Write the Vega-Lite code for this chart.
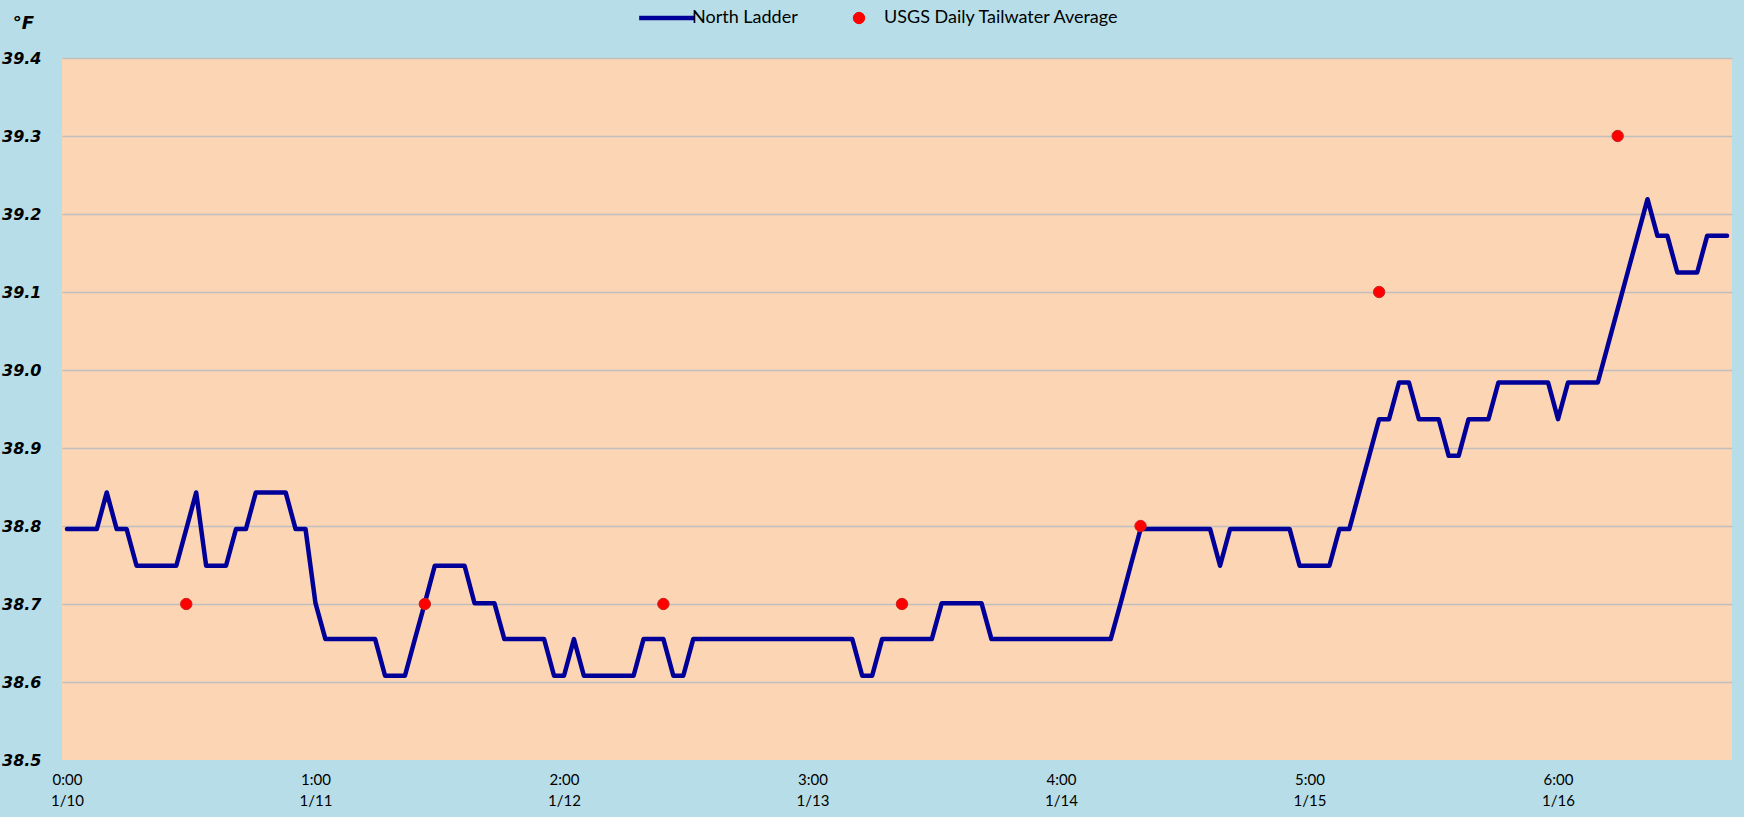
{
  "$schema": "https://vega.github.io/schema/vega-lite/v6.json",
  "width": 1670,
  "height": 702,
  "autosize": {"type": "none"},
  "padding": {"left": 62, "top": 58, "right": 12, "bottom": 57},
  "background": "#B7DEE8",
  "config": {"view": {"fill": "#FCD5B5", "stroke": null}},
  "datasets": {
    "ladder": [
      {"hour":0,"temp":38.796},{"hour":1,"temp":38.796},{"hour":2,"temp":38.796},{"hour":3,"temp":38.796},{"hour":4,"temp":38.843},{"hour":5,"temp":38.796},{"hour":6,"temp":38.796},{"hour":7,"temp":38.749},{"hour":8,"temp":38.749},{"hour":9,"temp":38.749},
      {"hour":10,"temp":38.749},{"hour":11,"temp":38.749},{"hour":12,"temp":38.796},{"hour":13,"temp":38.843},{"hour":14,"temp":38.749},{"hour":15,"temp":38.749},{"hour":16,"temp":38.749},{"hour":17,"temp":38.796},{"hour":18,"temp":38.796},{"hour":19,"temp":38.843},
      {"hour":20,"temp":38.843},{"hour":21,"temp":38.843},{"hour":22,"temp":38.843},{"hour":23,"temp":38.796},{"hour":24,"temp":38.796},{"hour":25,"temp":38.701},{"hour":26,"temp":38.655},{"hour":27,"temp":38.655},{"hour":28,"temp":38.655},{"hour":29,"temp":38.655},
      {"hour":30,"temp":38.655},{"hour":31,"temp":38.655},{"hour":32,"temp":38.608},{"hour":33,"temp":38.608},{"hour":34,"temp":38.608},{"hour":35,"temp":38.655},{"hour":36,"temp":38.701},{"hour":37,"temp":38.749},{"hour":38,"temp":38.749},{"hour":39,"temp":38.749},
      {"hour":40,"temp":38.749},{"hour":41,"temp":38.701},{"hour":42,"temp":38.701},{"hour":43,"temp":38.701},{"hour":44,"temp":38.655},{"hour":45,"temp":38.655},{"hour":46,"temp":38.655},{"hour":47,"temp":38.655},{"hour":48,"temp":38.655},{"hour":49,"temp":38.608},
      {"hour":50,"temp":38.608},{"hour":51,"temp":38.655},{"hour":52,"temp":38.608},{"hour":53,"temp":38.608},{"hour":54,"temp":38.608},{"hour":55,"temp":38.608},{"hour":56,"temp":38.608},{"hour":57,"temp":38.608},{"hour":58,"temp":38.655},{"hour":59,"temp":38.655},
      {"hour":60,"temp":38.655},{"hour":61,"temp":38.608},{"hour":62,"temp":38.608},{"hour":63,"temp":38.655},{"hour":64,"temp":38.655},{"hour":65,"temp":38.655},{"hour":66,"temp":38.655},{"hour":67,"temp":38.655},{"hour":68,"temp":38.655},{"hour":69,"temp":38.655},
      {"hour":70,"temp":38.655},{"hour":71,"temp":38.655},{"hour":72,"temp":38.655},{"hour":73,"temp":38.655},{"hour":74,"temp":38.655},{"hour":75,"temp":38.655},{"hour":76,"temp":38.655},{"hour":77,"temp":38.655},{"hour":78,"temp":38.655},{"hour":79,"temp":38.655},
      {"hour":80,"temp":38.608},{"hour":81,"temp":38.608},{"hour":82,"temp":38.655},{"hour":83,"temp":38.655},{"hour":84,"temp":38.655},{"hour":85,"temp":38.655},{"hour":86,"temp":38.655},{"hour":87,"temp":38.655},{"hour":88,"temp":38.701},{"hour":89,"temp":38.701},
      {"hour":90,"temp":38.701},{"hour":91,"temp":38.701},{"hour":92,"temp":38.701},{"hour":93,"temp":38.655},{"hour":94,"temp":38.655},{"hour":95,"temp":38.655},{"hour":96,"temp":38.655},{"hour":97,"temp":38.655},{"hour":98,"temp":38.655},{"hour":99,"temp":38.655},
      {"hour":100,"temp":38.655},{"hour":101,"temp":38.655},{"hour":102,"temp":38.655},{"hour":103,"temp":38.655},{"hour":104,"temp":38.655},{"hour":105,"temp":38.655},{"hour":106,"temp":38.701},{"hour":107,"temp":38.749},{"hour":108,"temp":38.796},{"hour":109,"temp":38.796},
      {"hour":110,"temp":38.796},{"hour":111,"temp":38.796},{"hour":112,"temp":38.796},{"hour":113,"temp":38.796},{"hour":114,"temp":38.796},{"hour":115,"temp":38.796},{"hour":116,"temp":38.749},{"hour":117,"temp":38.796},{"hour":118,"temp":38.796},{"hour":119,"temp":38.796},
      {"hour":120,"temp":38.796},{"hour":121,"temp":38.796},{"hour":122,"temp":38.796},{"hour":123,"temp":38.796},{"hour":124,"temp":38.749},{"hour":125,"temp":38.749},{"hour":126,"temp":38.749},{"hour":127,"temp":38.749},{"hour":128,"temp":38.796},{"hour":129,"temp":38.796},
      {"hour":130,"temp":38.843},{"hour":131,"temp":38.890},{"hour":132,"temp":38.937},{"hour":133,"temp":38.937},{"hour":134,"temp":38.984},{"hour":135,"temp":38.984},{"hour":136,"temp":38.937},{"hour":137,"temp":38.937},{"hour":138,"temp":38.937},{"hour":139,"temp":38.890},
      {"hour":140,"temp":38.890},{"hour":141,"temp":38.937},{"hour":142,"temp":38.937},{"hour":143,"temp":38.937},{"hour":144,"temp":38.984},{"hour":145,"temp":38.984},{"hour":146,"temp":38.984},{"hour":147,"temp":38.984},{"hour":148,"temp":38.984},{"hour":149,"temp":38.984},
      {"hour":150,"temp":38.937},{"hour":151,"temp":38.984},{"hour":152,"temp":38.984},{"hour":153,"temp":38.984},{"hour":154,"temp":38.984},{"hour":155,"temp":39.031},{"hour":156,"temp":39.078},{"hour":157,"temp":39.125},{"hour":158,"temp":39.172},{"hour":159,"temp":39.219},
      {"hour":160,"temp":39.172},{"hour":161,"temp":39.172},{"hour":162,"temp":39.125},{"hour":163,"temp":39.125},{"hour":164,"temp":39.125},{"hour":165,"temp":39.172},{"hour":166,"temp":39.172},{"hour":167,"temp":39.172}
    ],
    "usgs": [
      {"hour":12,"temp":38.7},{"hour":36,"temp":38.7},{"hour":60,"temp":38.7},{"hour":84,"temp":38.7},{"hour":108,"temp":38.8},{"hour":132,"temp":39.1},{"hour":156,"temp":39.3}
    ]
  },
  "encoding": {
    "x": {
      "field": "hour",
      "type": "quantitative",
      "scale": {"domain": [-0.5, 167.5], "nice": false, "zero": false},
      "axis": {
        "values": [0, 25, 50, 75, 100, 125, 150],
        "labelExpr": "[(datum.value % 24) + ':00', '1/' + (10 + floor(datum.value / 24))]",
        "title": null,
        "grid": false,
        "domain": false,
        "ticks": false,
        "labelFont": "Lato",
        "labelFontSize": 15,
        "labelColor": "#000000",
        "labelPadding": 12,
        "labelLineHeight": 21,
        "labelBaseline": "top",
        "labelFlush": false,
        "labelOverlap": false
      }
    },
    "y": {
      "field": "temp",
      "type": "quantitative",
      "scale": {"domain": [38.5, 39.4], "nice": false, "zero": false},
      "axis": {
        "values": [38.5, 38.6, 38.7, 38.8, 38.9, 39.0, 39.1, 39.2, 39.3, 39.4],
        "format": ".1f",
        "domain": false,
        "ticks": false,
        "grid": true,
        "gridColor": {"condition": {"test": "datum.value < 38.55", "value": "transparent"}, "value": "#BFBFBF"},
        "gridWidth": 1.3,
        "labelFont": "DejaVu Sans",
        "labelFontSize": 16,
        "labelFontWeight": "bold",
        "labelFontStyle": "italic",
        "labelColor": "#000000",
        "labelPadding": 21,
        "title": "°F",
        "titleAngle": 0,
        "titleX": -39,
        "titleY": -35,
        "titleAlign": "center",
        "titleBaseline": "middle",
        "titleFont": "DejaVu Sans",
        "titleFontSize": 18,
        "titleFontWeight": "bold",
        "titleFontStyle": "italic",
        "titleColor": "#000000"
      }
    }
  },
  "layer": [
    {
      "data": {"name": "ladder"},
      "mark": {"type": "line", "strokeWidth": 4.5, "strokeJoin": "round", "strokeCap": "round"},
      "encoding": {
        "color": {
          "datum": "North Ladder",
          "type": "nominal",
          "scale": {"domain": ["North Ladder", "USGS Daily Tailwater Average"], "range": ["#000099", "#FF0000"]},
          "legend": {
            "title": null,
            "orient": "none",
            "legendX": 596,
            "legendY": -49,
            "direction": "horizontal",
            "symbolSize": 2116,
            "symbolStrokeWidth": 4.5,
            "labelFont": "Lato",
            "labelFontSize": 18,
            "labelColor": "#000000",
            "labelLimit": 500,
            "labelOffset": 16,
            "columnPadding": 52,
            "encode": {
              "symbols": {
                "update": {
                  "shape": {"signal": "datum.value === 'North Ladder' ? 'stroke' : 'circle'"},
                  "size": {"signal": "datum.value === 'North Ladder' ? 3100 : 130"},
                  "fill": {"signal": "datum.value === 'North Ladder' ? 'transparent' : '#FF0000'"},
                  "stroke": {"signal": "datum.value === 'North Ladder' ? '#000099' : '#CC2222'"},
                  "strokeWidth": {"signal": "datum.value === 'North Ladder' ? 4.5 : 1"},
                  "opacity": {"value": 1}
                }
              }
            }
          }
        }
      }
    },
    {
      "data": {"name": "usgs"},
      "mark": {"type": "point", "filled": true, "size": 130, "opacity": 1, "stroke": "#CC2222", "strokeWidth": 1},
      "encoding": {
        "color": {"datum": "USGS Daily Tailwater Average", "type": "nominal"}
      }
    }
  ]
}
